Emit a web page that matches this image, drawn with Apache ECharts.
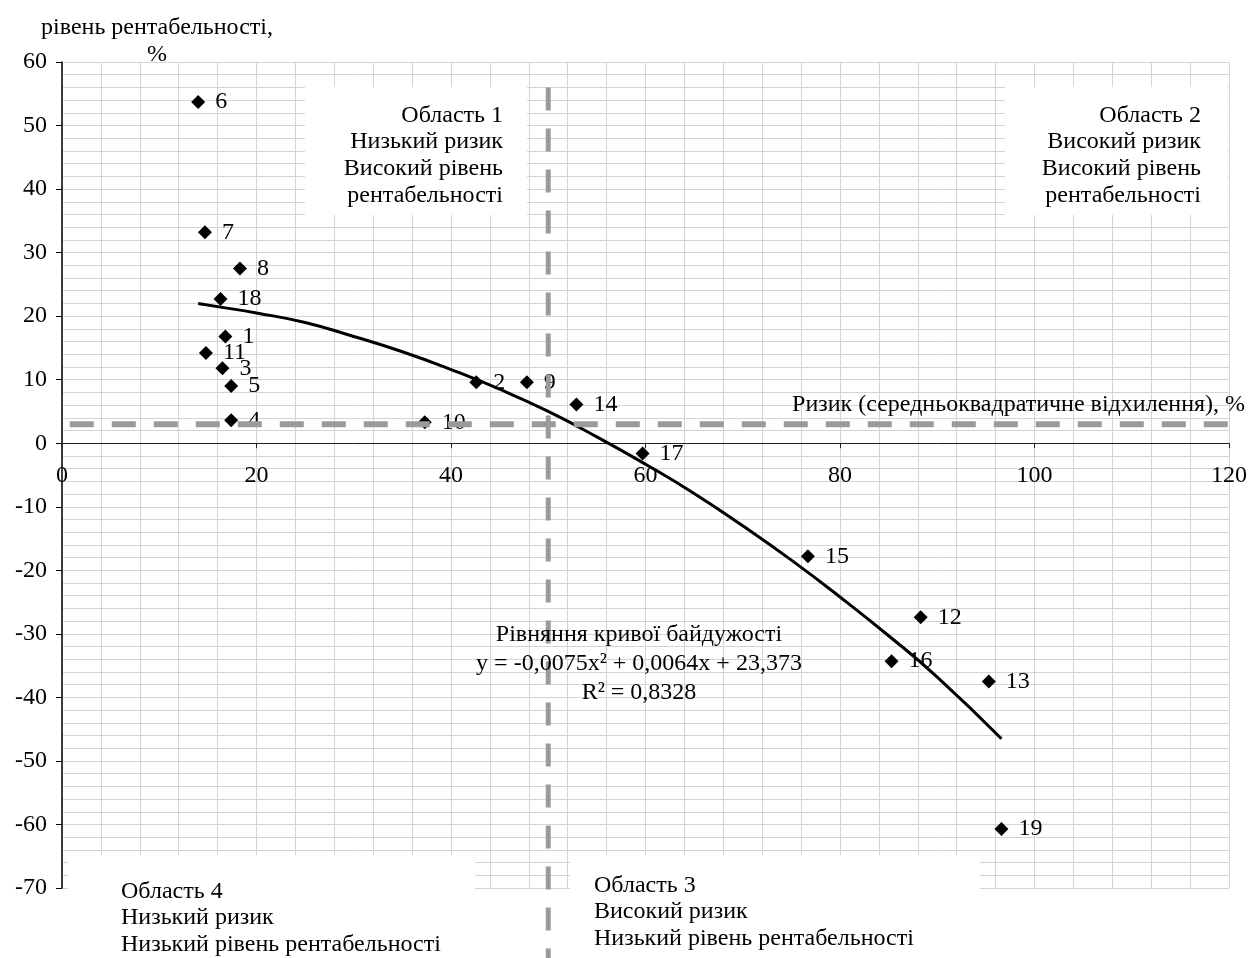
<!DOCTYPE html>
<html>
<head>
<meta charset="utf-8">
<script src="https://cdn.jsdelivr.net/npm/echarts@6/dist/echarts.min.js"></script>
<style>
  html, body { margin: 0; padding: 0; background: #fff; }
  #chart { width: 1250px; height: 958px; }
</style>
</head>
<body>
<div id="chart"></div>
<script>
// enterprises: risk (x) and profitability (y)
const pointNames = ['6', '7', '8', '18', '1', '11', '3', '5', '4', '10', '2', '9', '14', '17', '15', '12', '16', '13', '19'];
const riskValues = [14.0, 14.7, 18.3, 16.3, 16.8, 14.8, 16.5, 17.4, 17.4, 37.3, 42.6, 47.8, 52.9, 59.7, 76.7, 88.3, 85.3, 95.3, 96.6];
const profitValues = [53.7, 33.2, 27.5, 22.7, 16.8, 14.2, 11.8, 9.0, 3.6, 3.3, 9.6, 9.6, 6.1, -1.6, -17.8, -27.4, -34.3, -37.5, -60.7];

// indifference curve, points
const curveX = [14, 16, 20, 25, 30, 35, 40, 45, 50, 55, 60, 65, 70, 75, 80, 85, 90, 96.6];
const curveY = [22.0, 21.5, 20.5, 19.0, 16.8, 14.4, 11.6, 8.5, 5.0, 1.0, -3.3, -7.9, -13.0, -18.4, -24.2, -30.3, -36.8, -46.5];

// dashed dividing lines
const hLineX = [0.8, 122];
const hLineY = [3, 3];
const vLineX = [50, 50];
const vLineY = [56, -85];

const FONT = '"Liberation Serif", "Times New Roman", serif';
const FS = 24;

let chart = echarts.init(document.getElementById('chart'));

let pts = riskValues.map((x, i) => ({ value: [x, profitValues[i]], name: pointNames[i] }));
let curve = curveX.map((x, i) => [x, curveY[i]]);

let gridColor = '#d4d4d4';
let gridTop = 62, gridBottom = 70;
let yMin = -70, yMax = 60;
// move the x axis (with its labels) up to y = 0
let plotH = 958 - gridTop - gridBottom;
let xAxisOffset = -plotH * (0 - yMin) / (yMax - yMin);

option = {
    animation: false,
    backgroundColor: '#fff',
    grid: { left: 62, right: 18, top: gridTop, bottom: gridBottom },
    xAxis: {
        type: 'value',
        position: 'bottom',
        offset: xAxisOffset,
        min: 0, max: 120, interval: 20,
        axisLine: { onZero: false, lineStyle: { color: '#222', width: 1 } },
        axisTick: { show: true, length: 5, lineStyle: { color: '#222' } },
        axisLabel: { margin: 20, color: '#000', fontFamily: FONT, fontSize: FS },
        splitLine: { show: true, lineStyle: { color: gridColor, width: 1 } },
        minorTick: { show: false, splitNumber: 5 },
        minorSplitLine: { show: true, lineStyle: { color: gridColor, width: 1 } }
    },
    yAxis: {
        type: 'value',
        min: yMin, max: yMax, interval: 10,
        axisLine: { show: true, onZero: false, lineStyle: { color: '#000', width: 1.5 } },
        axisTick: { show: true, length: 6, lineStyle: { color: '#000' } },
        axisLabel: { margin: 15, color: '#000', fontFamily: FONT, fontSize: FS },
        splitLine: { show: true, lineStyle: { color: gridColor, width: 1 } },
        minorTick: { show: false, splitNumber: 5 },
        minorSplitLine: { show: true, lineStyle: { color: gridColor, width: 1 } }
    },
    graphic: [
        // white text boxes covering the grid
        { type: 'rect', z: 1, shape: { x: 305, y: 87, width: 222, height: 128 }, style: { fill: '#fff' } },
        { type: 'rect', z: 1, shape: { x: 1005, y: 87, width: 223, height: 128 }, style: { fill: '#fff' } },
        { type: 'rect', z: 1, shape: { x: 68, y: 855, width: 407, height: 103 }, style: { fill: '#fff' } },
        { type: 'rect', z: 1, shape: { x: 570, y: 855, width: 410, height: 103 }, style: { fill: '#fff' } },
        { type: 'text', z: 100, style: { x: 157, y: 28, text: 'рівень рентабельності,', font: FS + 'px ' + FONT, fill: '#000', textAlign: 'center', textVerticalAlign: 'middle' } },
        { type: 'text', z: 100, style: { x: 157, y: 55, text: '%', font: FS + 'px ' + FONT, fill: '#000', textAlign: 'center', textVerticalAlign: 'middle' } },
        { type: 'text', z: 100, style: { x: 503, y: 102, text: 'Область 1\nНизький ризик\nВисокий рівень\nрентабельності', font: FS + 'px ' + FONT, lineHeight: 26.7, fill: '#000', textAlign: 'right', textVerticalAlign: 'top' } },
        { type: 'text', z: 100, style: { x: 1201, y: 102, text: 'Область 2\nВисокий ризик\nВисокий рівень\nрентабельності', font: FS + 'px ' + FONT, lineHeight: 26.7, fill: '#000', textAlign: 'right', textVerticalAlign: 'top' } },
        { type: 'text', z: 100, style: { x: 121, y: 878, text: 'Область 4\nНизький ризик\nНизький рівень рентабельності', font: FS + 'px ' + FONT, lineHeight: 26.5, fill: '#000', textAlign: 'left', textVerticalAlign: 'top' } },
        { type: 'text', z: 100, style: { x: 594, y: 872, text: 'Область 3\nВисокий ризик\nНизький рівень рентабельності', font: FS + 'px ' + FONT, lineHeight: 26.5, fill: '#000', textAlign: 'left', textVerticalAlign: 'top' } },
        { type: 'text', z: 100, style: { x: 639, y: 620, text: 'Рівняння кривої байдужості\ny = -0,0075x² + 0,0064x + 23,373\nR² = 0,8328', font: FS + 'px ' + FONT, lineHeight: 29, fill: '#000', textAlign: 'center', textVerticalAlign: 'top' } },
        { type: 'text', z: 100, style: { x: 1245, y: 405, text: 'Ризик (середньоквадратичне відхилення), %', font: FS + 'px ' + FONT, fill: '#000', textAlign: 'right', textVerticalAlign: 'middle' } }
    ],
    series: [
        {
            name: 'curve',
            type: 'line',
            data: curve,
            smooth: true,
            showSymbol: false,
            lineStyle: { color: '#000', width: 3 },
            z: 3
        },
        {
            name: 'points',
            type: 'scatter',
            data: pts,
            symbol: 'diamond',
            symbolSize: 14,
            itemStyle: { color: '#000', opacity: 1 },
            label: {
                show: true,
                position: 'right',
                distance: 10,
                formatter: '{b}',
                color: '#000',
                fontFamily: FONT,
                fontSize: FS
            },
            z: 4
        },
        {
            name: 'hline',
            type: 'line',
            data: hLineX.map((x, i) => [x, hLineY[i]]),
            showSymbol: false,
            clip: false,
            lineStyle: { color: '#9a9a9a', width: 6, type: [24, 18] },
            z: 5
        },
        {
            name: 'vline',
            type: 'line',
            data: vLineX.map((x, i) => [x, vLineY[i]]),
            showSymbol: false,
            clip: false,
            lineStyle: { color: '#9a9a9a', width: 5, type: [23, 18] },
            z: 5
        }
    ]
};

chart.setOption(option);
</script>
</body>
</html>
